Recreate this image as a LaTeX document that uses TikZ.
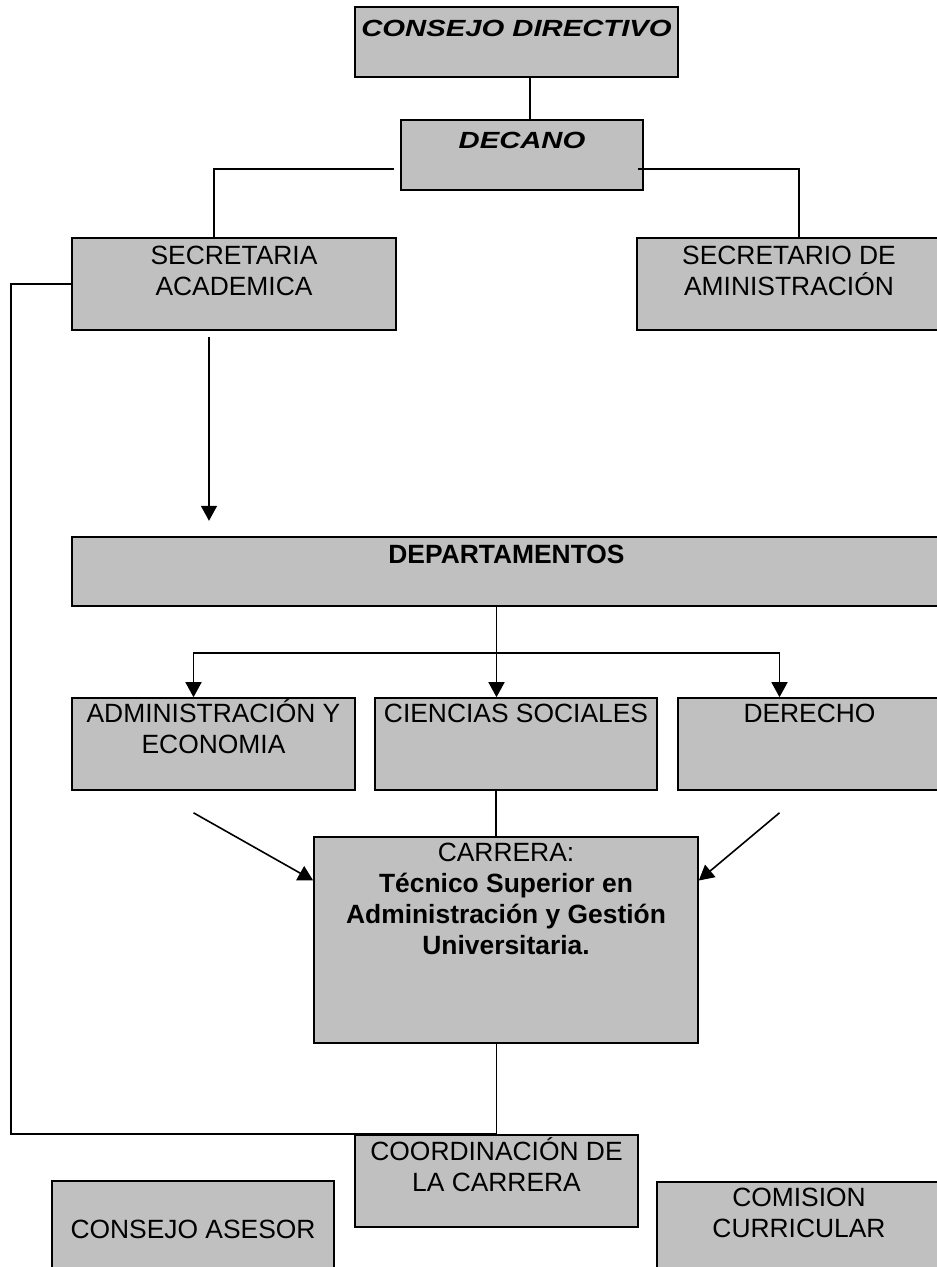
\documentclass[tikz,border=0pt]{standalone}
\usepackage{fontspec}
\setmainfont{Liberation Sans}
\usepackage{graphicx}
\usetikzlibrary{arrows.meta,calc}
\definecolor{cajagris}{RGB}{192,192,192}
\newcommand{\letra}{\fontsize{13.2}{15.5}\selectfont}
\newcommand{\titulo}[1]{{\fontsize{11.7}{14}\selectfont\bfseries\itshape\scalebox{1.25}[1]{#1}}}

\begin{document}
\begin{tikzpicture}[x=0.5pt,y=0.5pt,line width=0.8pt,
  caja/.style={draw=black, fill=cajagris, inner sep=0pt},
  texto/.style={align=center, inner sep=0pt, anchor=base, font=\letra},
  flecha/.style={-{Triangle[width=8pt,length=7.5pt]}}]
\useasboundingbox (0,0) rectangle (936,-1267);
% cajas
\node[caja, minimum width=161.5pt, minimum height=35pt] (cd) at (516.5,-42) {};
\node[caja, minimum width=121pt, minimum height=35pt] (dec) at (522,-155) {};
\node[caja, minimum width=162pt, minimum height=46pt] (sa) at (234,-284) {};
\node[caja, minimum width=152pt, minimum height=46pt] (sad) at (789,-284) {};
\node[caja, minimum width=434.5pt, minimum height=34.5pt] (dep) at (506.5,-571.5) {};
\node[caja, minimum width=141.5pt, minimum height=46pt] (adm) at (213.5,-744) {};
\node[caja, minimum width=141pt, minimum height=46pt] (cs) at (516,-744) {};
\node[caja, minimum width=131.5pt, minimum height=46pt] (der) at (809.5,-744) {};
\node[caja, minimum width=192pt, minimum height=103pt] (car) at (506,-940) {};
\node[caja, minimum width=141.5pt, minimum height=46pt] (coord) at (496.5,-1181) {};
\node[caja, minimum width=141pt, minimum height=50pt] (ca) at (193,-1231) {};
\node[caja, minimum width=142pt, minimum height=49.5pt] (cc) at (799,-1231.5) {};
% textos (la base es la de la ultima linea)
\node[texto] (cd-t) at ([yshift=-15pt]cd.north) {\titulo{CONSEJO DIRECTIVO}};
\node[texto] (dec-t) at ([yshift=-14.5pt]dec.north) {\titulo{DECANO}};
\node[texto] (sa-t) at ([yshift=-29pt]sa.north) {SECRETARIA\\ACADEMICA};
\node[texto] (sad-t) at ([yshift=-29pt]sad.north) {SECRETARIO DE\\AMINISTRACIÓN};
\node[texto] (dep-t) at ([yshift=-13.5pt]dep.north) {\textbf{DEPARTAMENTOS}};
\node[texto] (adm-t) at ([yshift=-28pt]adm.north) {ADMINISTRACIÓN Y\\ECONOMIA};
\node[texto] (cs-t) at ([yshift=-12.5pt]cs.north) {CIENCIAS SOCIALES};
\node[texto] (der-t) at ([yshift=-12.5pt]der.north) {DERECHO};
\node[texto] (car-t) at ([yshift=-59pt]car.north) {CARRERA:\\\textbf{Técnico Superior en}\\\textbf{Administración y Gestión}\\\textbf{Universitaria.}};
\node[texto] (coord-t) at ([yshift=-28.5pt]coord.north) {COORDINACIÓN DE\\LA CARRERA};
\node[texto] (ca-t) at ([yshift=-29pt]ca.north) {CONSEJO ASESOR};
\node[texto] (cc-t) at ([yshift=-28pt]cc.north) {COMISION\\CURRICULAR};
% conectores
\draw ([xshift=4pt]dec.north) -- ([xshift=4pt]dec.north |- cd.south);
\draw ([xshift=-3pt,yshift=-7pt]dec.west) -| ([xshift=-10pt]sa.north);
\draw ([xshift=-3pt,yshift=-7pt]dec.east) -| ([xshift=5pt]sad.north);
\draw[flecha] ([xshift=-12.5pt,yshift=-3pt]sa.south) -- ++(0,-184);
\draw (sa.west) -- ++(-60,0) |- (coord.north);
\draw (car.south -| coord.north) -- (coord.north);
\coordinate (rama) at ([yshift=-23pt]dep.south);
\draw[flecha] ([xshift=-5pt]dep.south) -- ([xshift=-5pt]dep.south |- cs.north);
\draw[{Triangle[width=8pt,length=7.5pt]}-{Triangle[width=8pt,length=7.5pt]}] ([xshift=-10pt]adm.north) |- (rama) -| ([xshift=-15pt]der.north);
\draw ([xshift=-10pt]cs.south) -- ([xshift=-10pt]cs.south |- car.north);
\draw[flecha] ([xshift=-10pt,yshift=-11pt]adm.south) -- ([yshift=29.75pt]car.west);
\draw[flecha] ([xshift=-15pt,yshift=-11pt]der.south) -- ([yshift=29.75pt]car.east);
\end{tikzpicture}
\end{document}
